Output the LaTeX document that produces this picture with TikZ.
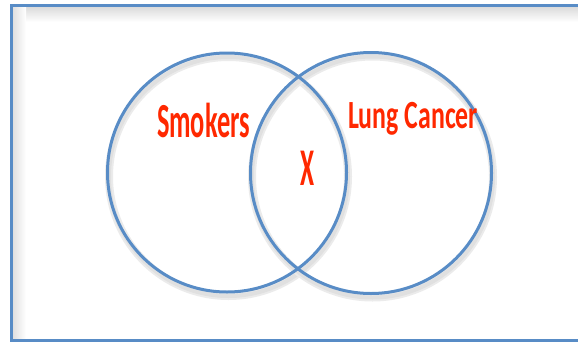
\documentclass[tikz,border=0pt]{standalone}
\usepackage{fontspec}
\setmainfont{Carlito}
\usepackage{graphicx}
\definecolor{vennblue}{RGB}{88,140,198}
\definecolor{vennred}{RGB}{255,40,0}

\begin{document}
\begin{tikzpicture}[x=1pt,y=-1pt,
  setline/.style={draw=vennblue, line width=3pt},
  setname/.style={text=vennred, font=\bfseries, inner sep=0pt, anchor=base}]
\useasboundingbox (0,0) rectangle (578,343);
% inner shadow of the frame
\shade[top color=black!14, bottom color=white] (13,7) rectangle (578,22);
\shade[left color=black!12, right color=white] (13,7) rectangle (26,339);
% frame, open on the right
\draw[setline, line width=3.3pt] (578,5.7) -- (11.7,5.7) -- (11.7,340.3) -- (578,340.3);
% soft shadows of the two sets
\foreach \cx/\cy/\r in {227/172.5/119.5, 371/173/120.5}{
  \draw[black!8, line width=8pt] (\cx+1.5,\cy+4) circle (\r pt);
  \draw[black!12, line width=4pt] (\cx+1.5,\cy+4) circle (\r pt);
}
% the two sets
\node[setline, circle, minimum size=239pt, inner sep=0pt] (smk) at (227,172.5) {};
\node[setline, circle, minimum size=241pt, inner sep=0pt] (lung) at (371,173) {};
% names of the sets
\node[setname] (smktxt) at (203.5,137)
  {\resizebox{93pt}{\height}{\fontsize{49}{49}\selectfont Smokers}};
\node[setname] (lungtxt) at (413,128)
  {\resizebox{130pt}{\height}{\fontsize{40}{40}\selectfont Lung Cancer}};
\node[setname] (both) at (307,185)
  {\resizebox{14pt}{\height}{\fontsize{53}{53}\selectfont X}};
\end{tikzpicture}
\end{document}
